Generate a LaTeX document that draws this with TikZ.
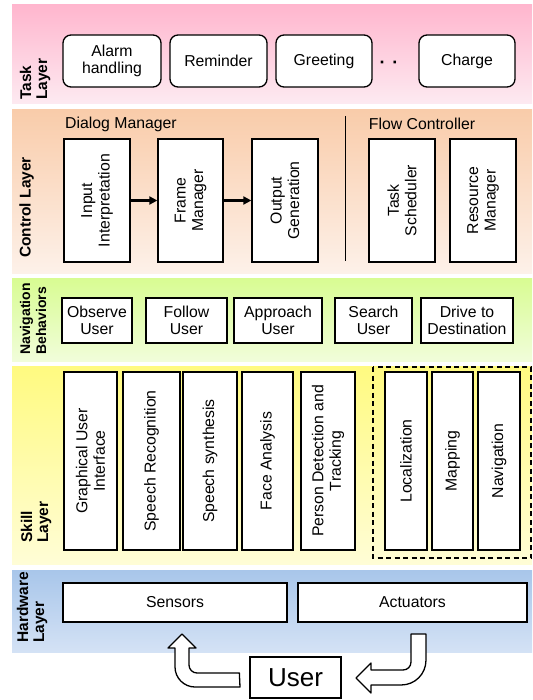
\documentclass[tikz,border=0pt]{standalone}
\usepackage{fontspec}
\setmainfont{Liberation Sans}
\usetikzlibrary{arrows.meta}
\definecolor{taskT}{RGB}{255,182,206}
\definecolor{taskB}{RGB}{253,234,241}
\definecolor{ctrlT}{RGB}{249,204,170}
\definecolor{ctrlB}{RGB}{253,241,233}
\definecolor{navT}{RGB}{216,252,146}
\definecolor{navB}{RGB}{241,253,218}
\definecolor{skillT}{RGB}{255,250,128}
\definecolor{skillB}{RGB}{255,253,214}
\definecolor{hwT}{RGB}{168,198,234}
\definecolor{hwB}{RGB}{212,226,245}
\tikzset{
  box/.style={draw=black, line width=1.3pt, fill=white, inner sep=0pt, align=center,
    font=\fontsize{15.8}{17.5}\selectfont},
  tbox/.style={box, rounded corners=8pt},
  vbox/.style={box, rotate=90},
  lbl/.style={rotate=90, anchor=west, align=left, inner sep=0pt,
    font=\bfseries\fontsize{15.5}{16}\selectfont},
  hdr/.style={inner sep=0pt, font=\fontsize{15.8}{17.5}\selectfont},
  flow/.style={-{Triangle[length=8pt,width=8pt]}, line width=2.4pt},
  hollow/.style={draw=black, line width=1.3pt, fill=white, line join=round}
}
\begin{document}
\begin{tikzpicture}[x=1pt,y=-1pt]
\useasboundingbox (0,0) rectangle (532,700);
% bands
\shade[top color=taskT, bottom color=taskB] (12,5) rectangle (532,104);
\shade[top color=ctrlT, bottom color=ctrlB] (12,110) rectangle (532,273);
\shade[top color=navT, bottom color=navB] (12,278) rectangle (532,361);
\shade[top color=skillT, bottom color=skillB] (12,366) rectangle (532,564);
\shade[top color=hwT, bottom color=hwB] (12,570) rectangle (532,652);
% layer labels
\node[lbl] (ltask) at (35,100) {Task\\Layer};
\node[lbl] (lctrl) at (26.5,258) {Control Layer};
\node[lbl, font=\bfseries\fontsize{14}{16}\selectfont] (lnav) at (33,355) {Navigation\\Behaviors};
\node[lbl] (lskill) at (36,543) {Skill\\Layer};
\node[lbl] (lhw) at (32,643) {Hardware\\Layer};
% task layer
\node[tbox, minimum width=98pt, minimum height=52pt] (alarm) at (112,61) {Alarm\\handling};
\node[tbox, minimum width=97pt, minimum height=52pt] (remind) at (218.5,61) {Reminder};
\node[tbox, minimum width=96pt, minimum height=52pt] (greet) at (324,61) {Greeting};
\node[inner sep=0pt, font=\bfseries\fontsize{18}{18}\selectfont] (dots) at (389,65) {·\hspace{7pt}·};
\node[tbox, minimum width=96pt, minimum height=52pt] (charge) at (467,61) {Charge};
% control layer
\node[hdr] (dm) at (121,124) {Dialog Manager};
\node[hdr] (fc) at (422,124) {Flow Controller};
\coordinate (divt) at (345,116);
\coordinate (divb) at (345,261);
\draw[line width=0.8pt] (divt) -- (divb);
\node[vbox, minimum width=123pt, minimum height=66pt] (input) at (97,200.5) {Input\\Interpretation};
\node[vbox, minimum width=123pt, minimum height=65pt] (frame) at (190.5,200.5) {Frame\\Manager};
\node[vbox, minimum width=123pt, minimum height=66pt] (output) at (285,200.5) {Output\\Generation};
\node[vbox, minimum width=123pt, minimum height=66pt] (sched) at (402,200.5) {Task\\Scheduler};
\node[vbox, minimum width=123pt, minimum height=66pt] (resman) at (483,200.5) {Resource\\Manager};
\draw[flow] (input) -- (frame);
\draw[flow] (frame) -- (output);
% navigation behaviors
\node[box, minimum width=70pt, minimum height=45pt] (observe) at (97,320.5) {Observe\\User};
\node[box, minimum width=81pt, minimum height=45pt] (follow) at (186.5,320.5) {Follow\\User};
\node[box, minimum width=88pt, minimum height=45pt] (approach) at (278,320.5) {Approach\\User};
\node[box, minimum width=77pt, minimum height=45pt] (search) at (373.5,320.5) {Search\\User};
\node[box, minimum width=92pt, minimum height=45pt] (drive) at (467,320.5) {Drive to\\Destination};
% skill layer
\draw[line width=1.4pt, dash pattern=on 5pt off 3.5pt] (373,367) rectangle (531,558);
\node[vbox, minimum width=178pt, minimum height=53pt] (gui) at (90.5,461) {Graphical User\\Interface};
\node[vbox, minimum width=178pt, minimum height=57pt] (sr) at (151.5,461) {Speech Recognition};
\node[vbox, minimum width=178pt, minimum height=54pt] (ss) at (210,461) {Speech synthesis};
\node[vbox, minimum width=178pt, minimum height=51pt] (face) at (267.5,461) {Face Analysis};
\node[vbox, minimum width=178pt, minimum height=54pt] (person) at (328,461) {Person Detection and\\Tracking};
\node[vbox, minimum width=178pt, minimum height=42pt] (loc) at (406,461) {Localization};
\node[vbox, minimum width=178pt, minimum height=41pt] (map) at (452.5,461) {Mapping};
\node[vbox, minimum width=178pt, minimum height=42pt] (nav) at (499,461) {Navigation};
% hardware layer
\node[box, minimum width=224pt, minimum height=39pt] (sensors) at (175,602.5) {Sensors};
\node[box, minimum width=229pt, minimum height=39pt] (act) at (412.5,602.5) {Actuators};
% user
\node[box, minimum width=91pt, minimum height=41pt, font=\fontsize{26}{28}\selectfont] (user) at (295.5,677.5) {User};
% hollow arrows: user -> sensors, actuators -> user
\draw[hollow] (user.west |- 0,673) ++(-10,0) coordinate (la)
  -- (197,673) .. controls (192.6,673) and (189,669.4) .. (189,665)
  -- (189,648) -- (196,648) -- (182,634) -- (168,648) -- (175,648)
  -- (175,667) .. controls (175,678) and (184,687) .. (195,687)
  -- (240,687) -- cycle;
\draw[hollow] (411,634) -- (426,634) -- (426,660)
  .. controls (426,674) and (415,685) .. (401,685)
  -- (371,685) -- (371,693) -- (356,678) -- (371,663) -- (371,670)
  -- (403,670) .. controls (407.5,670) and (411,666.5) .. (411,662) -- cycle;
\end{tikzpicture}
\end{document}
